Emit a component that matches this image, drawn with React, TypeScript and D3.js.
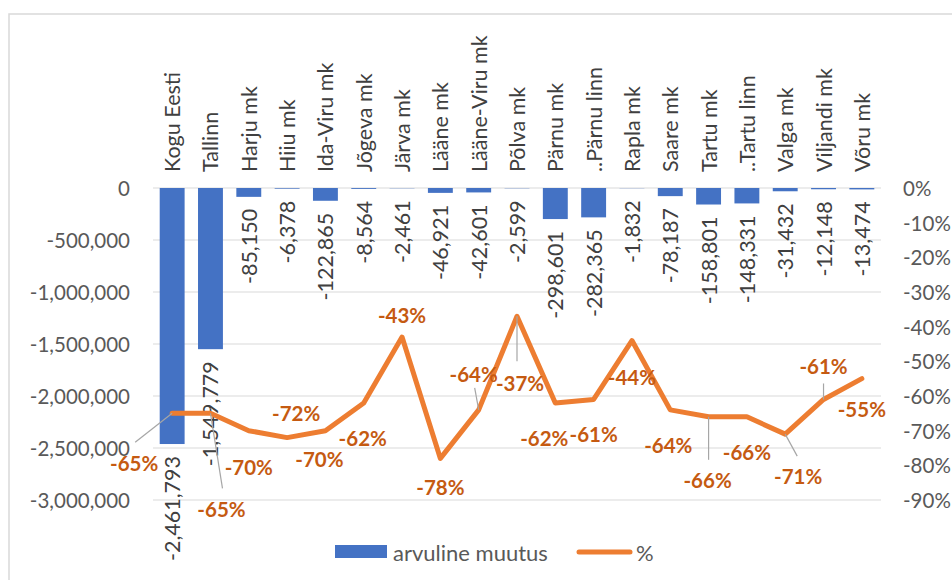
import React from "react";
import * as d3 from "d3";

const categories = [
  "Kogu Eesti", "Tallinn", "Harju mk", "Hiiu mk", "Ida-Viru mk", "Jõgeva mk", "Järva mk",
  "Lääne mk", "Lääne-Viru mk", "Põlva mk", "Pärnu mk", "..Pärnu linn", "Rapla mk", "Saare mk",
  "Tartu mk", "..Tartu linn", "Valga mk", "Viljandi mk", "Võru mk",
];
const changeValues = [
  -2461793, -1549779, -85150, -6378, -122865, -8564, -2461, -46921, -42601, -2599,
  -298601, -282365, -1832, -78187, -158801, -148331, -31432, -12148, -13474,
];
const pctValues = [
  -65, -65, -70, -72, -70, -62, -43, -78, -64, -37, -62, -61, -44, -64, -66, -66, -71, -61, -55,
];
const leftTicks = [0, -500000, -1000000, -1500000, -2000000, -2500000, -3000000];
const rightTicks = [0, -10, -20, -30, -40, -50, -60, -70, -80, -90];

// label placement offsets (dx, dy) relative to each line point
const pctLabelOffsets: [number, number][] = [
  [-38, 50], [11, 96], [0, 36], [9, -25], [-6, 28], [-1, 35], [0, -22], [0, 29], [-5, -36],
  [3, 67], [-11, 35], [0, 35], [0, 36], [-2, 35], [-1, 63], [0, 35], [13, 42], [0, -33], [0, 30],
];
// leader line end offsets (null = no leader)
const leaderEnds: ([number, number] | null)[] = [
  [-37, 29], [12, 75], null, null, null, null, null, null, [-4, -22],
  [0, 45], null, null, null, null, [0, 43], null, [12, 22], [0, -16], null,
];

const FONT = "Lato, 'Open Sans', sans-serif";
const BLUE = "#4472C4";
const ORANGE = "#ED7D31";
const LABEL_ORANGE = "#C55A11";

const locale = d3.formatLocale({ decimal: ".", thousands: ",", grouping: [3], currency: ["", ""], minus: "-" });
const fmt = locale.format(",");

export default function App() {
  const x = d3.scaleBand<string>().domain(categories).range([153, 881]).paddingInner(0.35).paddingOuter(0.175);
  const yL = d3.scaleLinear().domain([-3000000, 0]).range([500, 188]);
  const yR = d3.scaleLinear().domain([-90, 0]).range([500, 188]);
  const cx = (c: string) => (x(c) ?? 0) + x.bandwidth() / 2;

  const line = d3
    .line<number>()
    .x((_, i) => cx(categories[i]))
    .y((d) => yR(d));

  return (
    <svg
      width={952}
      height={580}
      style={{ position: "absolute", left: 0, top: 0, background: "#fff" }}
      fontFamily={FONT}
    >
      <rect x={9} y={14} width={1000} height={1000} fill="#fff" stroke="#D9D9D9" strokeWidth={1.5} />
      {/* gridlines */}
      {leftTicks.map((t) => (
        <line key={t} x1={153} x2={881} y1={yL(t)} y2={yL(t)} stroke="#D9D9D9" strokeWidth={1} />
      ))}
      {/* left axis labels */}
      {leftTicks.map((t) => (
        <text key={t} x={130} y={yL(t)} textAnchor="end" dominantBaseline="central" fontSize={20.5} fill="#595959">
          {fmt(t)}
        </text>
      ))}
      {/* right axis labels */}
      {rightTicks.map((t) => (
        <text key={t} x={903} y={yR(t)} textAnchor="start" dominantBaseline="central" fontSize={20.5} fill="#595959">
          {t + "%"}
        </text>
      ))}
      {/* bars */}
      {changeValues.map((v, i) => (
        <rect
          key={i}
          x={x(categories[i])}
          y={yL(0)}
          width={x.bandwidth()}
          height={yL(v) - yL(0)}
          fill={BLUE}
        />
      ))}
      {/* category labels */}
      {categories.map((c) => (
        <text
          key={c}
          transform={`translate(${cx(c)},172) rotate(-90)`}
          textAnchor="start"
          dominantBaseline="central"
          fontSize={21.5}
          fill="#404040"
        >
          {c}
        </text>
      ))}
      {/* bar value labels */}
      {changeValues.map((v, i) => (
        <text
          key={i}
          transform={`translate(${cx(categories[i])},${yL(v) + 12}) rotate(-90)`}
          textAnchor="end"
          dominantBaseline="central"
          fontSize={21.5}
          fill="#404040"
        >
          {fmt(v)}
        </text>
      ))}
      {/* line */}
      <path d={line(pctValues) ?? ""} fill="none" stroke={ORANGE} strokeWidth={5} strokeLinejoin="round" strokeLinecap="round" />
      {/* leaders */}
      {pctValues.map((v, i) => {
        const e = leaderEnds[i];
        if (!e) return null;
        const px = cx(categories[i]);
        const py = yR(v);
        return <line key={i} x1={px} y1={py} x2={px + e[0]} y2={py + e[1]} stroke="#A6A6A6" strokeWidth={1.2} />;
      })}
      {/* pct labels */}
      {pctValues.map((v, i) => (
        <text
          key={i}
          x={cx(categories[i]) + pctLabelOffsets[i][0]}
          y={yR(v) + pctLabelOffsets[i][1]}
          textAnchor="middle"
          dominantBaseline="central"
          fontSize={20.5}
          fontWeight="bold"
          fill={LABEL_ORANGE}
        >
          {v + "%"}
        </text>
      ))}
      {/* legend */}
      <rect x={335} y={545} width={52} height={13} fill={BLUE} />
      <text x={393} y={552} dominantBaseline="central" fontSize={22} fill="#595959">arvuline muutus</text>
      <line x1={579} x2={630} y1={552} y2={552} stroke={ORANGE} strokeWidth={5} strokeLinecap="round" />
      <text x={636} y={552} dominantBaseline="central" fontSize={22} fill="#595959">%</text>
    </svg>
  );
}
